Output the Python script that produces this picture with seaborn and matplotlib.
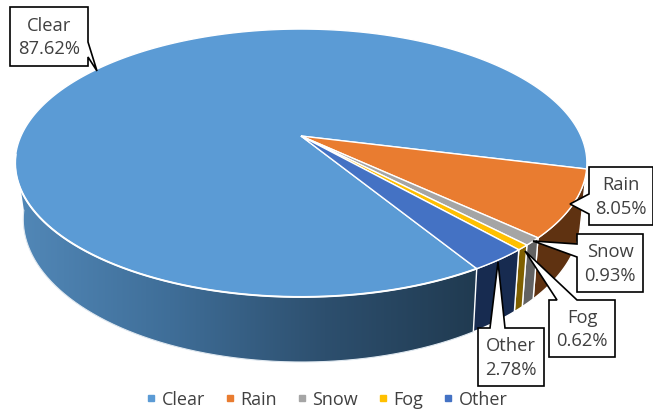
import numpy as np
import matplotlib
matplotlib.use("Agg")
import matplotlib.pyplot as plt
from matplotlib.lines import Line2D
from matplotlib.patches import Polygon
import seaborn as sns

# Shares
categories = ["Clear", "Rain", "Snow", "Fog", "Other"]
shares = [87.62, 8.05, 0.93, 0.62, 2.78]

top_colors = ["#5B9BD5", "#E97C30", "#A5A5A5", "#FFC000", "#4472C4"]
side_colors = ["#3f6d96", "#5f3211", "#626262", "#7f6000", "#172b50"]
clear_side_ramp = ["#5288b8", "#3f6e98", "#2d4f6e", "#203a50"]

sns.set_theme(style="white")
plt.rcParams["font.family"] = ["Open Sans", "DejaVu Sans"]

TEXT_COLOR = "#404040"
FIRST_ANGLE = -58.7  # where Clear starts, going clockwise
K = 0.2016           # perspective of the tilted disc


def project(theta):
    # unit circle -> (horizontal, vertical) in the tilted view
    t = np.radians(theta)
    u, v = np.cos(t), np.sin(t)
    d = 1 + K * v
    return u / d, -v / d


def top_rim(theta):
    a, b = project(theta)
    return 301 + 280 * a, 137 + 128.5 * b


def bottom_rim(theta):
    a, b = project(theta)
    return 302 + 273 * a, 191.4 + 137 * b


def side_polygon(t0, t1):
    th = np.linspace(t0, t1, 120)
    x0, y0 = top_rim(th)
    x1, y1 = bottom_rim(th)
    return np.r_[x0, x1[::-1]], np.r_[y0, y1[::-1]]


def callout(ax, box, side, a, b, tip, lines):
    # box with a pointer, drawn as one outline
    x0, y0, x1, y1 = box
    if side == "left":
        pts = [(x0, y0), (x1, y0), (x1, y1), (x0, y1), (x0, b), tip, (x0, a)]
    elif side == "right":
        pts = [(x0, y0), (x1, y0), (x1, a), tip, (x1, b), (x1, y1), (x0, y1)]
    else:  # top
        pts = [(x0, y0), (a, y0), tip, (b, y0), (x1, y0), (x1, y1), (x0, y1)]
    ax.add_patch(Polygon(pts, closed=True, fc="white", ec="black", lw=1.2, zorder=10))
    ax.text((x0 + x1) / 2, (y0 + y1) / 2, lines, ha="center", va="center",
            fontsize=13.2, color=TEXT_COLOR, linespacing=1.4, zorder=11)


fig = plt.figure(figsize=(6.53, 4.10), dpi=100)
ax = fig.add_axes([0, 0, 1, 1])
ax.set_xlim(0, 653)
ax.set_ylim(410, 0)
ax.axis("off")

# slice limits in degrees, clockwise from the start angle
sweep = np.array(shares) / sum(shares) * 360
starts = FIRST_ANGLE - np.r_[0, np.cumsum(sweep)[:-1]]
ends = starts - sweep

# outer wall, Clear gets a left to right ramp
sx, sy = side_polygon(FIRST_ANGLE, -172)
clear_wall = Polygon(np.c_[sx, sy], closed=True, fc="none", ec="none")
ax.add_patch(clear_wall)
ramp = sns.blend_palette(clear_side_ramp, as_cmap=True)
img = ax.imshow(np.linspace(0, 1, 256)[None, :], cmap=ramp, aspect="auto",
                extent=[15, 480, 410, 0], zorder=1)
img.set_clip_path(clear_wall)
ax.set_xlim(0, 653)
ax.set_ylim(410, 0)

for i in range(1, len(categories)):
    sx, sy = side_polygon(starts[i], ends[i])
    ax.fill(sx, sy, fc=side_colors[i], ec="white", lw=1.0, zorder=2)

# pale line round the base
bx, by = bottom_rim(np.linspace(FIRST_ANGLE, -172, 200))
ax.plot(bx, by, color="#dfe8f0", lw=0.8, zorder=2)

# top of the disc
for i in range(len(categories)):
    th = np.linspace(starts[i], ends[i], 400)
    tx, ty = top_rim(th)
    ax.fill(np.r_[301, tx], np.r_[137, ty], fc=top_colors[i], ec="white", lw=1.0, zorder=3)

# brighter rim above the Clear wall
rx, ry = top_rim(np.linspace(FIRST_ANGLE, -172, 200))
ax.plot(rx, ry, color="white", lw=1.4, zorder=4)

labels = [f"{c}\n{s:.2f}%" for c, s in zip(categories, shares)]
callout(ax, (10, 8, 88, 67), "right", 43, 58, (97, 72), labels[0])
callout(ax, (589, 168, 653, 226), "left", 195, 215, (570, 205), labels[1])
callout(ax, (577, 235, 643, 293), "left", 245, 258, (533, 242), labels[2])
callout(ax, (549, 301, 615, 358), "top", 557, 577, (525, 252), labels[3])
callout(ax, (478, 329, 544, 387), "top", 490, 505, (498, 263), labels[4])

handles = [Line2D([], [], ls="", marker="s", ms=3.8, color=c) for c in top_colors]
ax.legend(handles, categories, loc="lower center", bbox_to_anchor=(0.5, -0.038),
          ncol=5, frameon=False, fontsize=13, labelcolor=TEXT_COLOR,
          handlelength=0.6, handletextpad=0.3, columnspacing=1.05)

fig.savefig("out.png", dpi=100)
